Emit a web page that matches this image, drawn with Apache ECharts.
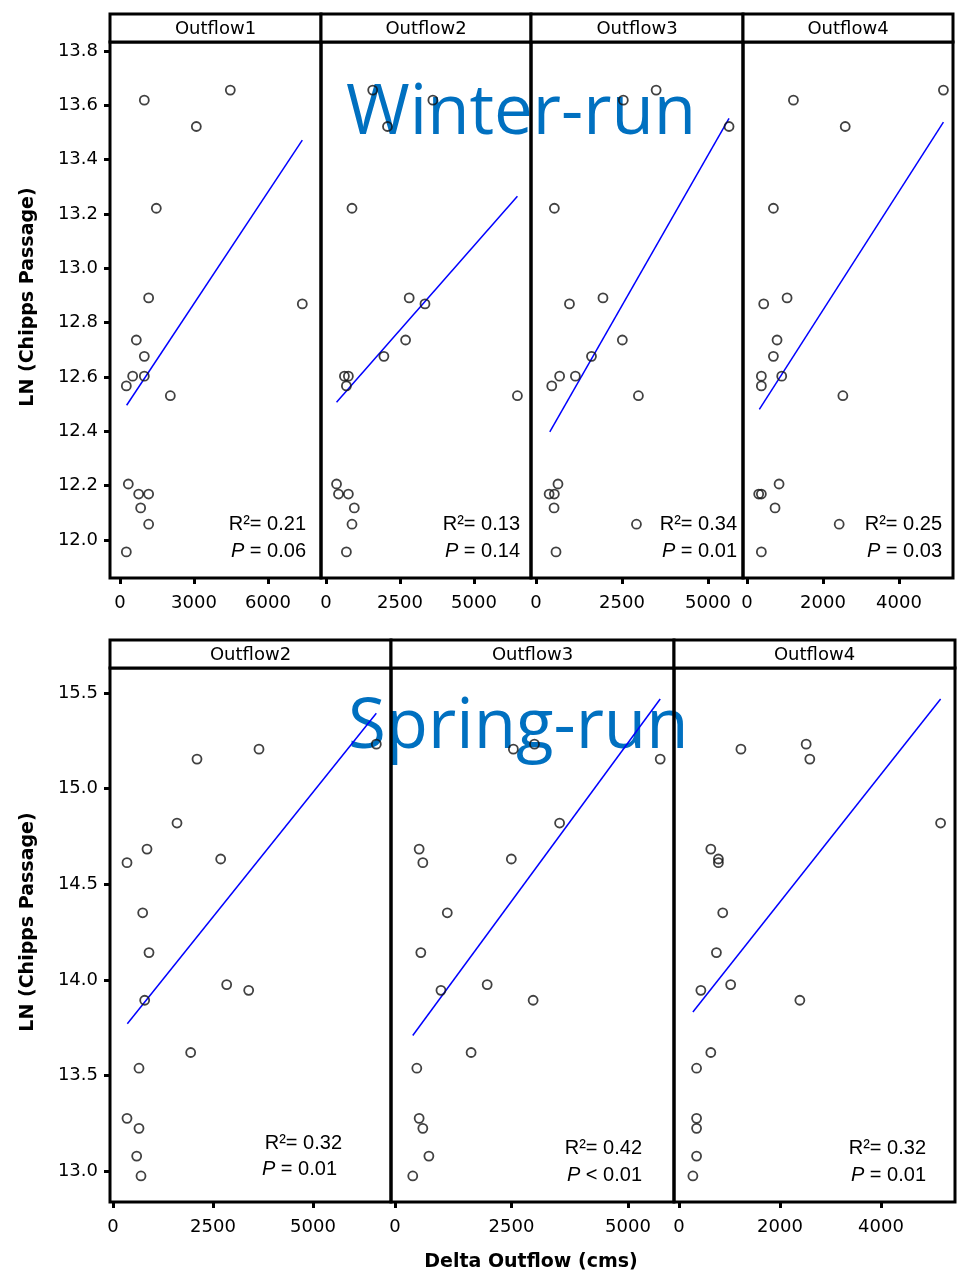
<!DOCTYPE html>
<html>
<head>
<meta charset="utf-8">
<title>Chipps passage vs delta outflow</title>
<script src="https://cdn.jsdelivr.net/npm/echarts@6/dist/echarts.min.js"></script>
<style>
  html, body { margin: 0; padding: 0; background: #fff; }
  #main { width: 961px; height: 1282px; }
</style>
</head>
<body>
<div id="main"></div>
<script>
// ---- data ----
var winterPanels = ['Outflow1', 'Outflow2', 'Outflow3', 'Outflow4'];
var springPanels = ['Outflow2', 'Outflow3', 'Outflow4'];

// LN(Chipps passage), same years in every panel
var winterY = [13.619, 13.656, 13.522, 13.221, 12.891, 12.869, 12.736, 12.676, 12.603,
               12.603, 12.567, 12.531, 12.206, 12.169, 12.169, 12.118, 12.058, 11.956];
var winterX1 = [986, 4473, 3095, 1473, 1162, 7392, 662, 986, 514, 986, 257, 2041, 338, 757, 1162, 838, 1162, 257];
var winterX2 = [3611, 1578, 2078, 878, 2811, 3344, 2689, 1956, 622, 756, 689, 6467, 356, 422, 756, 956, 878, 689];
var winterX3 = [2538, 3492, 5611, 534, 1947, 973, 2510, 1613, 687, 1145, 458, 2977, 639, 382, 534, 525, 2920, 582];
var winterX4 = [1222, 5169, 2585, 695, 1055, 440, 791, 695, 378, 914, 378, 2523, 844, 308, 378, 738, 2426, 378];

var springY = [15.206, 15.154, 15.232, 14.820, 14.684, 14.613, 14.632, 14.351, 14.143,
               13.976, 13.946, 13.894, 13.621, 13.539, 13.277, 13.225, 13.080, 12.976];
var springX2 = [3650, 2100, 6583, 1600, 850, 350, 2692, 742, 900, 2842, 3392, 792, 1942, 650, 350, 650, 592, 700];
var springX3 = [2540, 5691, 2993, 3532, 518, 597, 2496, 1122, 554, 1978, 986, 2964, 1633, 468, 518, 597, 727, 381];
var springX4 = [1226, 2590, 2518, 5180, 630, 780, 780, 866, 741, 1023, 433, 2393, 630, 348, 348, 348, 348, 275];

// fitted lines (end points)
var winterFitX = [[270, 7392], [356, 6467], [401, 5611], [325, 5169]];
var winterFitY = [[12.496, 13.472], [12.507, 13.265], [12.398, 13.552], [12.481, 13.538]];
var springFitX = [[358, 6583], [381, 5691], [275, 5180]];
var springFitY = [[13.771, 15.394], [13.710, 15.468], [13.833, 15.468]];

// tick labels
var winterXTicks = [[0, 3000, 6000], [0, 2500, 5000], [0, 2500, 5000], [0, 2000, 4000]];
var springXTicks = [[0, 2500, 5000], [0, 2500, 5000], [0, 2000, 4000]];
var winterYTicks = [12.0, 12.2, 12.4, 12.6, 12.8, 13.0, 13.2, 13.4, 13.6, 13.8];
var springYTicks = [13.0, 13.5, 14.0, 14.5, 15.0, 15.5];

// annotation text
var winterR2 = ['0.21', '0.13', '0.34', '0.25'];
var winterP = ['= 0.06', '= 0.14', '= 0.01', '= 0.03'];
var springR2 = ['0.32', '0.42', '0.32'];
var springP = ['= 0.01', '< 0.01', '= 0.01'];

// ---- layout ----
var winterBox = { top: 42, height: 536, stripTop: 14,
  left: [110, 321, 531, 743], width: [211, 210, 212, 210],
  xRange: [[-405, 8150], [-169, 6926], [-145, 6017], [-105, 5421]], yRange: [11.86, 13.833],
  textRight: [306, 520, 737, 942], textY: [524, 551] };
var springBox = { top: 668, height: 534, stripTop: 640,
  left: [110, 391, 674], width: [281, 283, 281],
  xRange: [[-75, 6950], [-86, 5987], [-99, 5465]], yRange: [12.84, 15.63],
  textRight: [[342, 337], [642, 642], [926, 926]], textY: [[1143, 1169], [1148, 1175], [1148, 1175]] };

var tickFont = { fontFamily: 'DejaVu Sans', fontSize: 18, color: '#000' };

var grids = [], xAxes = [], yAxes = [], series = [], graphics = [];

function zip(xs, ys) {
  return xs.map(function (x, i) { return [x, ys[i]]; });
}

function addPanel(box, i, name, xs, ys, fitX, fitY, xTicks, yTicks, first) {
  var gi = grids.length;
  grids.push({
    left: box.left[i], top: box.top, width: box.width[i], height: box.height,
    show: true, borderColor: '#000', borderWidth: 3, z: 3
  });
  xAxes.push({
    type: 'value', gridIndex: gi, min: box.xRange[i][0], max: box.xRange[i][1],
    axisLine: { show: false, onZero: false },
    axisTick: { show: true, length: 6, lineStyle: { width: 3, color: '#000' }, customValues: xTicks },
    axisLabel: Object.assign({ margin: 16, customValues: xTicks,
      formatter: function (v) { return String(v); } }, tickFont),
    splitLine: { show: false }
  });
  yAxes.push({
    type: 'value', gridIndex: gi, min: box.yRange[0], max: box.yRange[1],
    axisLine: { show: false, onZero: false },
    axisTick: { show: first, length: 6, lineStyle: { width: 3, color: '#000' }, customValues: yTicks },
    axisLabel: Object.assign({ show: first, margin: 12, customValues: yTicks,
      formatter: function (v) { return v.toFixed(1); } }, tickFont),
    splitLine: { show: false }
  });
  series.push({
    type: 'scatter', xAxisIndex: gi, yAxisIndex: gi, data: zip(xs, ys),
    symbol: 'circle', symbolSize: 9, z: 4,
    itemStyle: { color: 'rgba(255,255,255,0)', borderColor: '#111', borderWidth: 1.8 }
  });
  series.push({
    type: 'line', xAxisIndex: gi, yAxisIndex: gi, data: zip(fitX, fitY),
    symbol: 'none', z: 3, lineStyle: { color: '#0000ff', width: 1.5 }
  });
  // strip header
  graphics.push({
    type: 'rect', shape: { x: box.left[i], y: box.stripTop, width: box.width[i], height: box.top - box.stripTop },
    style: { fill: '#fff', stroke: '#000', lineWidth: 3 }, z: 5
  });
  graphics.push({
    type: 'text', x: box.left[i] + box.width[i] / 2, y: (box.stripTop + box.top) / 2 + 1, z: 6,
    style: { text: name, font: '18px "DejaVu Sans"', fill: '#000', align: 'center', verticalAlign: 'middle' }
  });
}

for (var i = 0; i < 4; i++) {
  addPanel(winterBox, i, winterPanels[i], [winterX1, winterX2, winterX3, winterX4][i], winterY,
    winterFitX[i], winterFitY[i], winterXTicks[i], winterYTicks, i === 0);
  graphics.push({ type: 'text', x: winterBox.textRight[i], y: winterBox.textY[0], z: 6,
    style: { text: 'R\u00b2= ' + winterR2[i], font: '20px "Liberation Sans"', fill: '#000', align: 'right', verticalAlign: 'middle' } });
  graphics.push({ type: 'text', x: winterBox.textRight[i], y: winterBox.textY[1], z: 6,
    style: { text: '{i|P} ' + winterP[i], font: '20px "Liberation Sans"', fill: '#000', align: 'right', verticalAlign: 'middle',
      rich: { i: { fontStyle: 'italic', fontFamily: 'Liberation Sans', fontSize: 20 } } } });
}
for (var j = 0; j < 3; j++) {
  addPanel(springBox, j, springPanels[j], [springX2, springX3, springX4][j], springY,
    springFitX[j], springFitY[j], springXTicks[j], springYTicks, j === 0);
  graphics.push({ type: 'text', x: springBox.textRight[j][0], y: springBox.textY[j][0], z: 6,
    style: { text: 'R\u00b2= ' + springR2[j], font: '20px "Liberation Sans"', fill: '#000', align: 'right', verticalAlign: 'middle' } });
  graphics.push({ type: 'text', x: springBox.textRight[j][1], y: springBox.textY[j][1], z: 6,
    style: { text: '{i|P} ' + springP[j], font: '20px "Liberation Sans"', fill: '#000', align: 'right', verticalAlign: 'middle',
      rich: { i: { fontStyle: 'italic', fontFamily: 'Liberation Sans', fontSize: 20 } } } });
}

// big run labels and axis titles
graphics.push({ type: 'text', x: 346, y: 80, z: 1,
  style: { text: 'Winter-run', font: '69px "Open Sans"', fill: '#0070c0', align: 'left', verticalAlign: 'top' } });
graphics.push({ type: 'text', x: 348, y: 694, z: 1,
  style: { text: 'Spring-run', font: '69px "Open Sans"', fill: '#0070c0', align: 'left', verticalAlign: 'top' } });
graphics.push({ type: 'text', x: 28, y: 297, rotation: Math.PI / 2, z: 6,
  style: { text: 'LN (Chipps Passage)', font: 'bold 19px "DejaVu Sans"', fill: '#000', align: 'center', verticalAlign: 'middle' } });
graphics.push({ type: 'text', x: 28, y: 922, rotation: Math.PI / 2, z: 6,
  style: { text: 'LN (Chipps Passage)', font: 'bold 19px "DejaVu Sans"', fill: '#000', align: 'center', verticalAlign: 'middle' } });
graphics.push({ type: 'text', x: 531, y: 1262, z: 6,
  style: { text: 'Delta Outflow (cms)', font: 'bold 19px "DejaVu Sans"', fill: '#000', align: 'center', verticalAlign: 'middle' } });

var myChart = echarts.init(document.getElementById('main'), null, { renderer: 'canvas' });
myChart.setOption({
  animation: false,
  backgroundColor: '#fff',
  grid: grids,
  xAxis: xAxes,
  yAxis: yAxes,
  series: series,
  graphic: graphics
});

window.addEventListener('resize', function () { myChart.resize(); });
</script>
</body>
</html>
